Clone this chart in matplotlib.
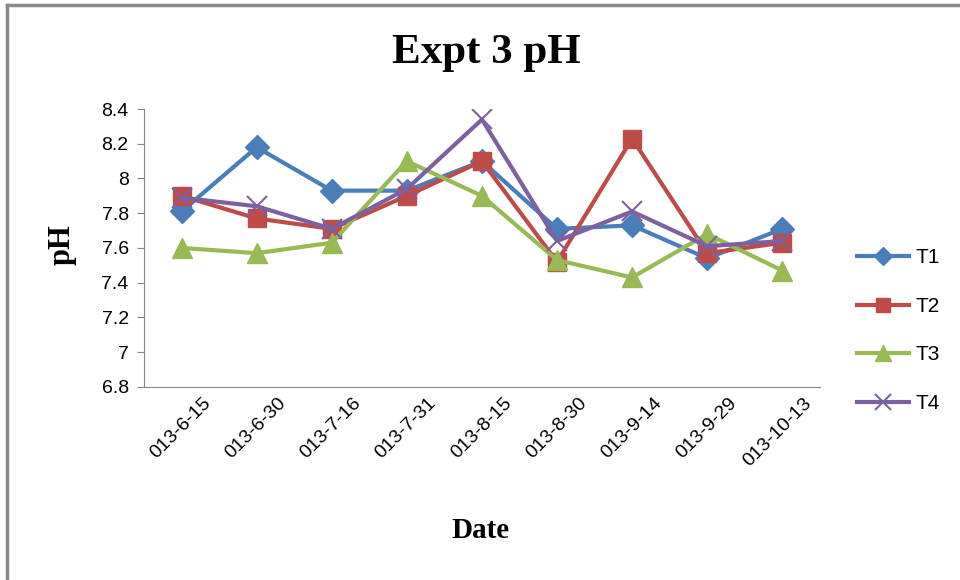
import matplotlib
matplotlib.use("Agg")
import matplotlib.pyplot as plt
import matplotlib.transforms as mtransforms

# Datos
fechas = ['013-6-15', '013-6-30', '013-7-16', '013-7-31', '013-8-15',
          '013-8-30', '013-9-14', '013-9-29', '013-10-13']
t1 = [7.81, 8.18, 7.93, 7.93, 8.10, 7.71, 7.73, 7.54, 7.71]
t2 = [7.90, 7.77, 7.71, 7.90, 8.10, 7.52, 8.23, 7.57, 7.63]
t3 = [7.60, 7.57, 7.63, 8.10, 7.90, 7.53, 7.43, 7.68, 7.47]
t4 = [7.89, 7.84, 7.71, 7.94, 8.34, 7.64, 7.81, 7.61, 7.64]

fig = plt.figure(figsize=(9.6, 5.8), dpi=100)
ax = fig.add_axes([0.15, 0.333, 0.704, 0.479])

x = list(range(len(fechas)))
ax.plot(x, t1, color='#4A7EBB', lw=3, marker='D', ms=12, label='T1')
ax.plot(x, t2, color='#BE4B48', lw=3, marker='s', ms=13, label='T2')
ax.plot(x, t3, color='#98B954', lw=3, marker='^', ms=14, label='T3')
ax.plot(x, t4, color='#7D60A0', lw=3, marker='x', ms=14, mew=1.5, label='T4')

ax.set_xlim(-0.5, len(fechas) - 0.5)
ax.set_ylim(6.8, 8.4)
ax.set_yticks([6.8, 7.0, 7.2, 7.4, 7.6, 7.8, 8.0, 8.2, 8.4])
ax.set_yticklabels(['6.8', '7', '7.2', '7.4', '7.6', '7.8', '8', '8.2', '8.4'])
ax.set_xticks(x)
ax.set_xticklabels([])
for lab in ax.get_yticklabels():
    lab.set_fontfamily('Liberation Sans')
    lab.set_fontsize(14)

# etiquetas de fecha giradas, desplazadas a la derecha de cada punto
desp = mtransforms.ScaledTranslation(21 / 100, -8 / 100, fig.dpi_scale_trans)
for xi, f in zip(x, fechas):
    ax.text(xi, 0, f, transform=ax.get_xaxis_transform() + desp,
            rotation=45, ha='right', va='top', rotation_mode='anchor',
            family='Liberation Sans', fontsize=14)

ax.tick_params(axis='x', length=0)
ax.tick_params(axis='y', direction='out', length=5, color='#868686', pad=6)
ax.spines['top'].set_visible(False)
ax.spines['right'].set_visible(False)
ax.spines['left'].set_color('#868686')
ax.spines['bottom'].set_color('#868686')

fig.text(0.507, 0.908, 'Expt 3 pH', ha='center', va='center',
         family='Liberation Serif', fontweight='bold', fontsize=31)
fig.text(0.065, 0.578, 'pH', ha='center', va='center', rotation=90,
         family='Liberation Serif', fontweight='bold', fontsize=22)
fig.text(0.5, 0.085, 'Date', ha='center', va='center',
         family='Liberation Serif', fontweight='bold', fontsize=21)

leg = ax.legend(loc='center left', bbox_to_anchor=(0.893, 0.43), bbox_transform=fig.transFigure,
                frameon=False, handlelength=2.5, labelspacing=1.42, handletextpad=0.3,
                borderaxespad=0, borderpad=0,
                prop={'family': 'Liberation Sans', 'size': 15}, markerscale=0.8)

# borde del gráfico (solo arriba e izquierda visibles)
fig.add_artist(plt.Line2D([0.0073, 0.0073], [0, 0.992], color='#888888', lw=2.5))
fig.add_artist(plt.Line2D([0.0073, 1.0], [0.992, 0.992], color='#888888', lw=2.5))

fig.savefig('out.png', dpi=100)
